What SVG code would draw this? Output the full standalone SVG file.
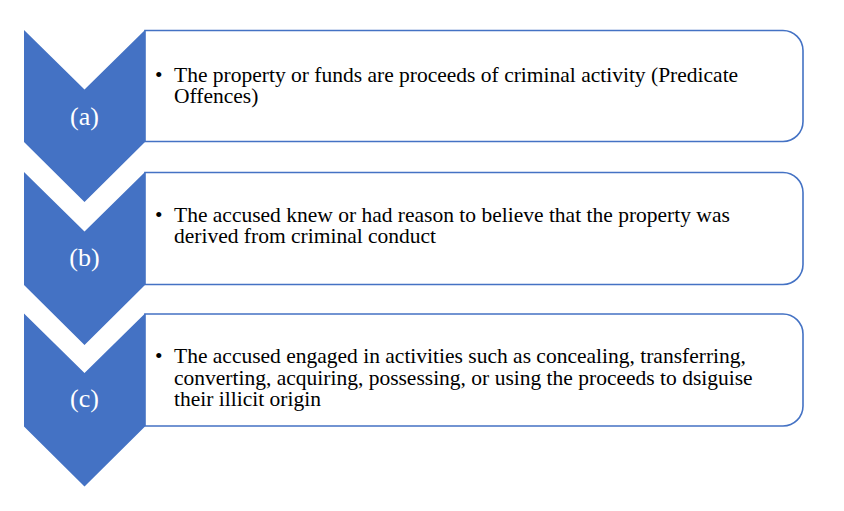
<svg xmlns="http://www.w3.org/2000/svg" width="844" height="511" viewBox="0 0 844 511">
<style>
.chev{fill:#4472C4;}
.box{fill:#FFFFFF;stroke:#4472C4;stroke-width:1.6;}
.lbl{font-family:"Liberation Serif","Times New Roman",serif;font-size:26px;fill:#FFFFFF;text-anchor:middle;}
.txt{font-family:"Liberation Serif","Times New Roman",serif;font-size:21.5px;fill:#000000;}
</style>
<rect width="844" height="511" fill="#FFFFFF"/>
<g id="node-a">
<path class="box" d="M145,30.5 H783 A20,20 0 0 1 803,50.5 V121.5 A20,20 0 0 1 783,141.5 H145 Z"/>
<path class="chev" d="M24,30 L84.5,89.5 L145,30 V142 L84.5,202 L24,142 Z"/>
<text class="lbl" x="84.5" y="125">(a)</text>
<text class="txt"><tspan x="155" y="81.5">•</tspan><tspan x="174" y="81.5">The property or funds are proceeds of criminal activity (Predicate</tspan><tspan x="174" y="103">Offences)</tspan></text>
</g>
<g id="node-b">
<path class="box" d="M145,172.5 H783 A20,20 0 0 1 803,192.5 V264.5 A20,20 0 0 1 783,284.5 H145 Z"/>
<path class="chev" d="M24,172 L84.5,231.5 L145,172 V285 L84.5,345 L24,285 Z"/>
<text class="lbl" x="84.5" y="266">(b)</text>
<text class="txt"><tspan x="155" y="221.5">•</tspan><tspan x="174" y="221.5">The accused knew or had reason to believe that the property was</tspan><tspan x="174" y="243">derived from criminal conduct</tspan></text>
</g>
<g id="node-c">
<path class="box" d="M145,314 H783 A20,20 0 0 1 803,334 V406 A20,20 0 0 1 783,426 H145 Z"/>
<path class="chev" d="M24,313.5 L84.5,373 L145,313.5 V426.5 L84.5,486.5 L24,426.5 Z"/>
<text class="lbl" x="84.5" y="407">(c)</text>
<text class="txt"><tspan x="155" y="363">•</tspan><tspan x="174" y="363">The accused engaged in activities such as concealing, transferring,</tspan><tspan x="174" y="384.5">converting, acquiring, possessing, or using the proceeds to dsiguise</tspan><tspan x="174" y="406">their illicit origin</tspan></text>
</g>
<g id="connectors"></g>
</svg>
